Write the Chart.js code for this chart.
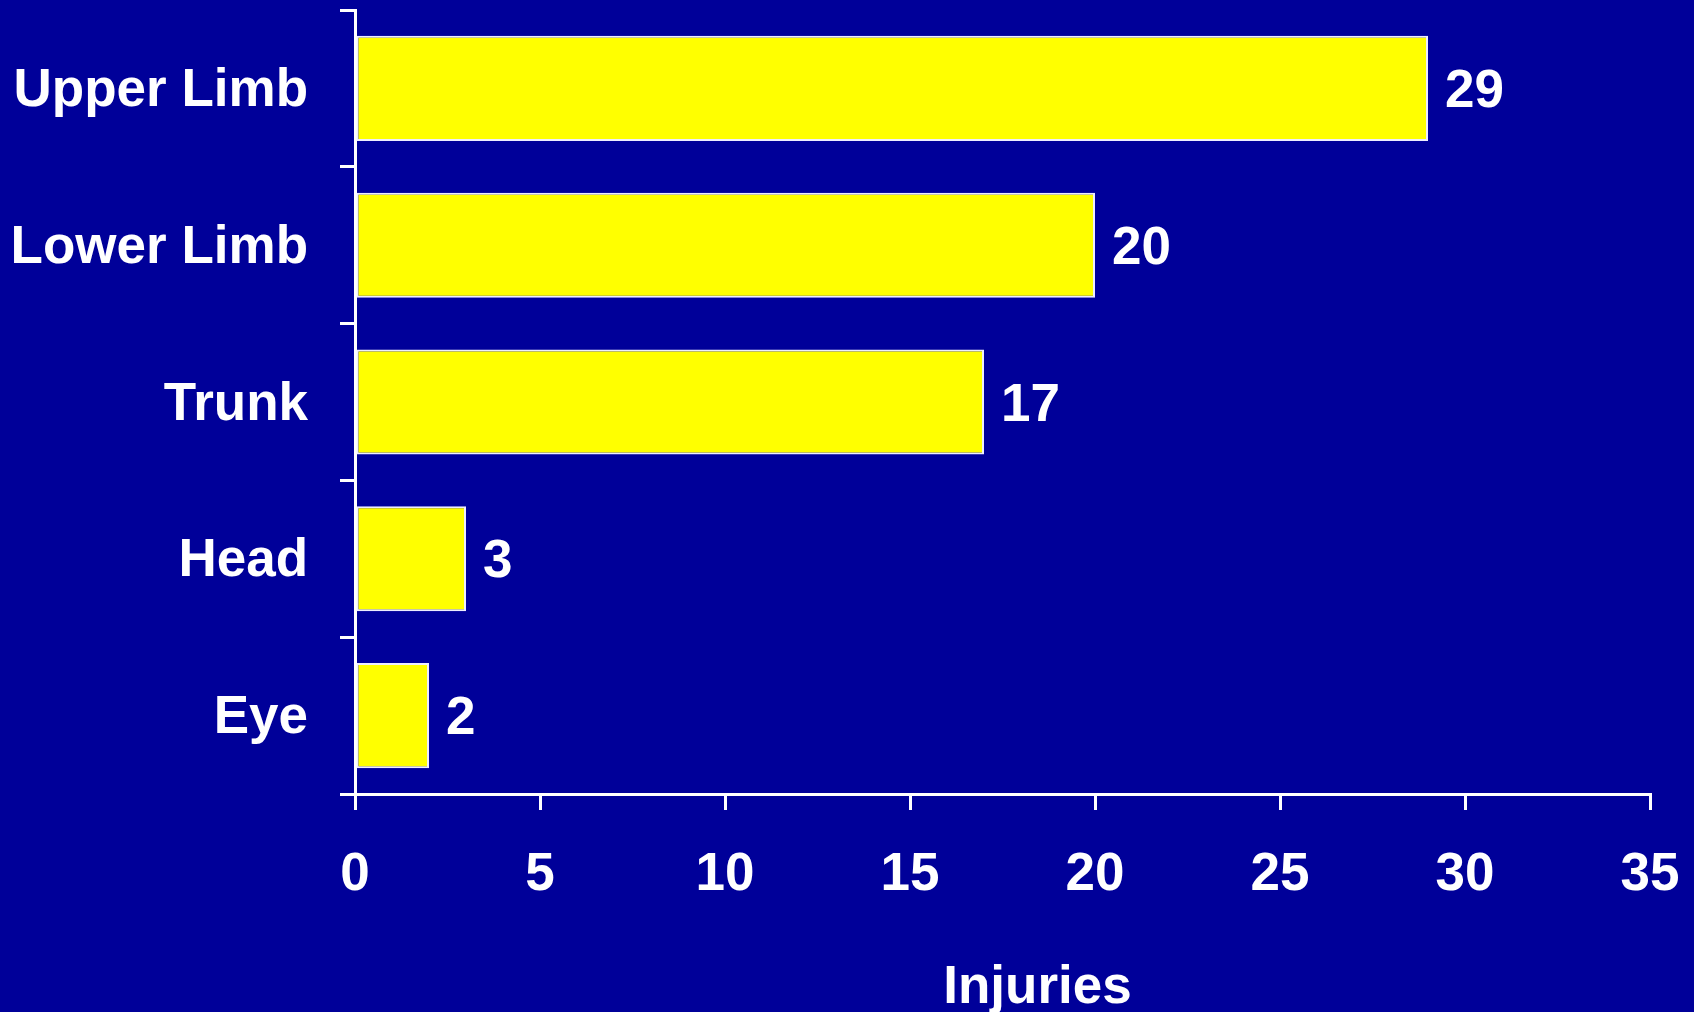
<!DOCTYPE html>
<html>
<head>
<meta charset="utf-8">
<script src="https://cdn.jsdelivr.net/npm/chart.js@4"></script>
<style>
  html, body { margin: 0; padding: 0; background: #000099; }
  #wrap { width: 1694px; height: 1012px; }
</style>
</head>
<body>
<div id="wrap"><canvas id="chart"></canvas></div>
<script>
const categories = ['Upper Limb', 'Lower Limb', 'Trunk', 'Head', 'Eye'];
const injuries = [29, 20, 17, 3, 2];
const xTicks = [0, 5, 10, 15, 20, 25, 30, 35];
const axisTitle = 'Injuries';

const FONT = "'Liberation Sans', Arial, sans-serif";
const FSIZE = 53;

// numbers to the right of each bar
const valueLabels = {
  id: 'valueLabels',
  afterDatasetsDraw(chart) {
    const ctx = chart.ctx;
    const meta = chart.getDatasetMeta(0);
    ctx.save();
    ctx.fillStyle = '#ffffff';
    ctx.font = 'bold ' + FSIZE + 'px ' + FONT;
    ctx.textAlign = 'left';
    ctx.textBaseline = 'middle';
    meta.data.forEach((bar, i) => {
      ctx.fillText(String(injuries[i]), bar.x + 17, bar.y + 4);
    });
    ctx.restore();
  }
};

// axis title sits a bit right of centre in the original
const xTitle = {
  id: 'xTitle',
  afterDraw(chart) {
    const ctx = chart.ctx;
    const area = chart.chartArea;
    ctx.save();
    ctx.fillStyle = '#ffffff';
    ctx.font = 'bold ' + FSIZE + 'px ' + FONT;
    ctx.textAlign = 'center';
    ctx.textBaseline = 'alphabetic';
    ctx.fillText(axisTitle, (area.left + area.right) / 2 + 35, 1003);
    ctx.restore();
  }
};

function noPad(scale) {
  scale.paddingTop = 0;
  scale.paddingBottom = 0;
  scale.paddingLeft = 0;
  scale.paddingRight = 0;
}

new Chart(document.getElementById('chart'), {
  type: 'bar',
  data: {
    labels: categories,
    datasets: [{
      data: injuries,
      backgroundColor: '#ffff00',
      borderColor: '#eeeeff',
      borderWidth: 2,
      borderSkipped: false,
      categoryPercentage: 0.67,
      barPercentage: 1
    }]
  },
  options: {
    indexAxis: 'y',
    responsive: true,
    maintainAspectRatio: false,
    animation: false,
    events: [],
    layout: { padding: { top: 10, right: 44, left: 0, bottom: 0 } },
    plugins: { legend: { display: false }, tooltip: { enabled: false } },
    scales: {
      x: {
        min: 0,
        max: 35,
        afterBuildTicks(scale) { scale.ticks = xTicks.map(v => ({ value: v })); },
        afterFit(scale) { scale.height = 218; noPad(scale); },
        border: { color: '#ffffff', width: 3 },
        grid: { drawOnChartArea: false, color: '#ffffff', lineWidth: 3, tickLength: 16 },
        ticks: {
          color: '#ffffff',
          padding: 34,
          maxRotation: 0,
          font: { family: FONT, size: FSIZE, weight: 'bold' }
        }
      },
      y: {
        offset: true,
        afterFit(scale) { scale.width = 355; noPad(scale); },
        border: { color: '#ffffff', width: 3 },
        grid: { offset: true, drawOnChartArea: false, color: '#ffffff', lineWidth: 3, tickLength: 15 },
        ticks: {
          color: '#ffffff',
          padding: 32,
          labelOffset: 3,
          font: { family: FONT, size: FSIZE, weight: 'bold' }
        }
      }
    }
  },
  plugins: [valueLabels, xTitle]
});
</script>
</body>
</html>
